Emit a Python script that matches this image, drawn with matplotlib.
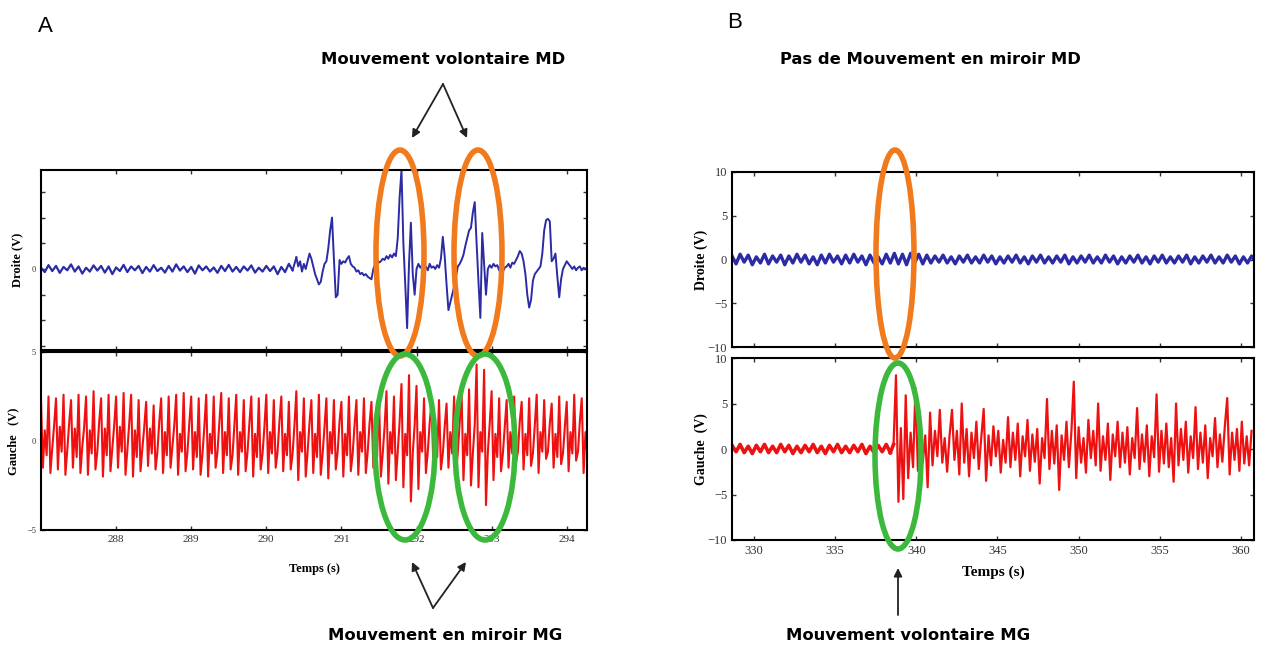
import numpy as np
import matplotlib
matplotlib.use("Agg")
import matplotlib.pyplot as plt
from matplotlib.patches import Ellipse

# ---------------- data ----------------
# panel A, right hand (Droite), quiet part: 287.00 s, step 0.05 s
droite_a_base = [0.05, -0.12, 0.15, -0.08, 0.12, -0.15, 0.08, -0.05, 0.18, -0.1,
                 0.1, -0.18, 0.05, -0.1, 0.14, -0.06, 0.12, -0.14, 0.1, -0.2,
                 0.06, -0.08, 0.16, -0.12, 0.1, -0.05, 0.12, -0.16, 0.08, -0.1,
                 0.15, -0.08, 0.05, -0.14, 0.12, -0.1, 0.18, -0.06, 0.1, -0.12,
                 0.08, -0.18, 0.14, -0.05, 0.1, -0.1, 0.06, -0.15, 0.12, -0.08,
                 0.16, -0.1, 0.08, -0.12, 0.1, -0.06, 0.14, -0.14, 0.05, -0.1,
                 0.12, -0.08, 0.1, -0.2, 0.08, -0.12, 0.2, -0.05]
# panel A, right hand, active part: 290.40 s, step 0.025 s
droite_a_burst = [0.45, 0.1, 0.3, -0.1, 0.2, 0.0, 0.3, 0.6, 0.4, 0.1,
                  -0.2, -0.4, -0.6, -0.5, -0.1, 0.2, 0.3, 0.8, 1.5, 2.0,
                  0.4, -1.1, -1.0, 0.35, 0.2, 0.3, 0.25, 0.4, 0.5, 0.2,
                  0.1, 0.05, -0.1, -0.05, -0.2, -0.15, -0.25, -0.2, -0.3, -0.35,
                  -0.4, 0.0, 0.2, 0.35, 0.25, 0.3, 0.4, 0.35, 0.5, 0.4,
                  0.55, 0.45, 0.6, 0.5, 1.2, 2.8, 3.85, 1.0, -0.6, -2.3,
                  0.2, 1.8, -0.2, -1.0, 0.0, 0.2, 0.05, 0.15, 0.0, 0.1,
                  -0.05, 0.2, 0.05, 0.1, 0.0, 0.15, 0.05, 0.4, 1.25, 0.5,
                  -0.6, -1.6, -1.3, -1.0, -0.7, -0.3, 0.1, 0.2, 0.35, 0.55,
                  0.9, 1.2, 1.5, 1.6, 2.2, 2.6, 1.0, -0.5, -1.9, 1.4,
                  0.2, -1.0, 0.0, 0.15, 0.05, 0.2, 0.1, 0.15, -0.05, 0.1,
                  -0.1, 0.05, 0.1, 0.2, 0.05, 0.25, 0.2, 0.35, 0.5, 0.7,
                  0.6, 0.3, -0.2, -1.0, -1.5, -1.2, -0.45, -0.2, -0.1, 0.0,
                  0.1, 0.6, 1.5, 1.9, 1.95, 1.85, 0.3, 0.4, 0.6, -0.3,
                  -1.1, -0.4, 0.0, 0.15, 0.3, 0.2, 0.1, 0.0, 0.1, -0.05,
                  0.05, 0.1, -0.05, 0.05, 0.0, 0.05]
# panel A, left hand (Gauche): 287.0 s, step 0.025 s (peak, trough, two mids per cycle)
gauche_a = [2.3, -1.5, 0.6, -0.8, 2.5, -1.8, -0.4, 0.9, 2.4, -1.6, 0.8, -0.6,
            2.6, -1.9, -0.5, 1.0, 2.3, -1.5, 0.7, -0.9, 2.6, -1.8, -0.3, 0.8,
            2.5, -1.9, 0.6, -0.7, 2.8, -1.6, -0.6, 1.1, 2.4, -2.0, 0.7, -0.8,
            2.6, -1.7, -0.4, 0.9, 2.5, -1.5, 0.8, -0.6, 2.7, -1.9, -0.5, 1.0,
            2.6, -2.0, 0.6, -0.9, 2.3, -1.7, -0.4, 0.8, 2.2, -1.4, 0.7, -0.7,
            2.0, -1.6, -0.6, 1.1, 2.4, -1.8, 0.5, -0.8, 2.5, -1.5, -0.3, 0.9,
            2.6, -1.9, 0.4, -0.6, 2.7, -1.7, -0.6, 1.0, 2.5, -1.6, 0.5, -0.9,
            2.4, -1.9, -0.7, 0.8, 2.6, -2.0, 0.4, -0.7, 2.5, -1.5, -0.6, 1.1,
            2.7, -1.8, 0.5, -0.8, 2.4, -1.6, -0.8, 0.9, 2.6, -1.9, 0.5, -0.6,
            2.3, -1.7, -0.6, 1.0, 2.5, -2.0, 0.4, -0.9, 2.4, -1.6, -0.7, 0.8,
            2.6, -1.8, 0.5, -0.7, 2.3, -1.5, -0.6, 1.1, 2.5, -1.7, 0.4, -0.8,
            2.2, -1.6, -0.7, 0.9, 2.8, -2.2, 0.5, -0.6, 2.4, -2.0, -0.6, 1.0,
            2.3, -1.8, 0.4, -0.9, 2.6, -1.9, -0.7, 0.8, 2.4, -2.1, 0.5, -0.7,
            2.3, -1.6, -0.6, 1.1, 2.2, -2.0, 0.4, -0.8, 2.5, -1.7, -0.7, 0.9,
            2.3, -1.9, 0.5, -0.6, 2.4, -1.8, -0.6, 1.0, 2.2, -1.5, 0.4, -0.9,
            2.6, -2.0, -0.7, 0.8, 2.8, -2.4, 0.5, -0.7, 2.5, -2.2, -0.6, 1.1,
            3.2, -2.6, 0.4, -0.8, 3.7, -3.4, -0.7, 0.9, 3.1, -2.7, 0.5, -0.6,
            2.4, -1.8, -0.6, 1.0, 2.2, -1.5, 0.4, -0.9, 2.3, -1.6, -0.7, 0.8,
            2.1, -1.5, 0.5, -0.7, 2.5, -1.9, -0.6, 1.1, 2.7, -2.2, 0.4, -0.8,
            2.9, -2.5, -0.7, 0.9, 4.3, -2.6, 0.5, -0.6, 4.0, -3.6, -0.6, 1.0,
            2.8, -2.2, 0.4, -0.9, 2.4, -1.7, -0.7, 0.8, 2.3, -1.5, 0.5, -0.7,
            2.5, -1.2, -0.6, 1.1, 2.2, -1.6, 0.4, -0.8, 2.4, -1.4, -0.7, 0.9,
            2.6, -1.8, 0.5, -0.6, 2.3, -1.0, -0.6, 1.0, 2.1, -1.5, 0.4, -0.9,
            2.5, -1.3, -0.7, 0.8, 2.2, -1.7, 0.5, -0.7, 2.6, -1.1, -0.6, 1.1,
            2.4, -1.8, 0.5, -0.8]
# panel B, right hand: 328.65 s, step 0.25 s
droite_b = [0.4, -0.5, 0.6, -0.3, 0.5, -0.6, 0.3, -0.4, 0.6, -0.5,
            0.4, -0.3, 0.5, -0.6, 0.4, -0.4, 0.6, -0.3, 0.5, -0.5,
            0.3, -0.6, 0.5, -0.4, 0.6, -0.3, 0.4, -0.5, 0.5, -0.4,
            0.6, -0.3, 0.4, -0.6, 0.5, -0.4, 0.3, -0.5, 0.6, -0.4,
            0.7, -0.5, 0.6, -0.6, 0.7, -0.4, 0.6, -0.5, 0.5, -0.4,
            0.4, -0.3, 0.5, -0.4, 0.3, -0.5, 0.4, -0.3, 0.5, -0.4,
            0.3, -0.4, 0.5, -0.3, 0.4, -0.5, 0.3, -0.4, 0.4, -0.3,
            0.5, -0.4, 0.3, -0.5, 0.4, -0.3, 0.5, -0.4, 0.3, -0.4,
            0.4, -0.3, 0.5, -0.5, 0.3, -0.4, 0.4, -0.3, 0.5, -0.4,
            0.3, -0.4, 0.5, -0.3, 0.4, -0.5, 0.3, -0.4, 0.4, -0.3,
            0.5, -0.4, 0.3, -0.5, 0.4, -0.3, 0.5, -0.4, 0.3, -0.4,
            0.4, -0.3, 0.5, -0.5, 0.3, -0.4, 0.4, -0.3, 0.5, -0.4,
            0.3, -0.4, 0.5, -0.3, 0.4, -0.5, 0.3, -0.4, 0.4, -0.3]
# panel B, left hand, rest: 328.65 s, step 0.25 s
gauche_b_rest = [0.4, -0.3, 0.5, -0.4, 0.3, -0.5, 0.4, -0.3, 0.5, -0.4,
                 0.3, -0.4, 0.5, -0.3, 0.4, -0.5, 0.3, -0.4, 0.4, -0.3,
                 0.5, -0.4, 0.3, -0.5, 0.4, -0.3, 0.5, -0.4, 0.3, -0.4,
                 0.4, -0.3, 0.5, -0.5, 0.3, -0.4, 0.4, -0.3, 0.5, -0.4]
# panel B, left hand, voluntary movement: 338.60 s, step 0.15 s
gauche_b_burst = [0.5, 8.1, -5.8, 2.3, -5.5, 5.9, -3.2, 1.8, -2.0, 6.7,
                  -2.4, 1.0, -1.5, 1.5, -4.2, 4.0, -1.8, 2.0, -0.8, 4.3,
                  -1.5, 1.2, -2.5, 1.5, 4.3, -1.2, 2.0, -2.8, 5.0, -1.5,
                  2.2, -3.0, 1.8, -1.0, 3.0, -2.2, 1.2, 4.4, -3.5, 1.5,
                  -1.8, 2.5, -0.8, 2.0, -2.6, 1.0, -1.5, 3.5, -2.0, 1.8,
                  -1.2, 2.8, -3.0, 1.4, -0.8, 3.2, -2.4, 1.6, -1.4, 2.2,
                  -3.8, 1.2, -1.0, 5.5, -2.2, 2.0, -1.6, 2.6, -4.5, 1.5,
                  -1.2, 3.0, -2.0, 1.8, 7.4, -3.2, 2.4, -1.5, 1.2, -2.6,
                  3.2, -1.0, 2.0, -1.8, 5.0, -2.4, 1.4, -1.2, 2.8, -3.4,
                  1.6, -0.8, 3.0, -2.0, 1.8, -1.5, 2.4, -2.8, 1.2, -1.0,
                  4.5, -2.2, 1.6, -1.4, 2.6, -3.0, 1.4, -0.9, 6.0, -2.5,
                  2.0, -1.6, 2.8, -2.0, 1.2, -3.6, 5.0, -1.8, 2.2, -1.2,
                  3.0, -2.6, 1.4, -1.0, 4.6, -2.2, 1.8, -1.5, 2.6, -3.2,
                  1.2, -0.8, 3.4, -2.0, 1.6, -1.4, 2.4, 5.6, -2.8, 1.8,
                  -1.2, 2.2, -2.4, 3.0, -1.6, 1.4, -1.8, 2.0]

a_xticks = [288, 289, 290, 291, 292, 293, 294]
b_xticks = [330, 335, 340, 345, 350, 355, 360]
b_yticks = [-10, -5, 0, 5, 10]

BLUE = "#2b2ba6"
RED = "#ee1111"
ORANGE = "#f07a1c"
GREEN = "#3cb93c"
SERIF = "Liberation Serif"
W, H = 1262, 654


def ax_rect(x0, y0, x1, y1):
    return [x0 / W, 1 - y1 / H, (x1 - x0) / W, (y1 - y0) / H]


def times(t0, dt, vals):
    return t0 + dt * np.arange(len(vals))


def style(ax, size):
    for s in ax.spines.values():
        s.set_linewidth(1.5)
    ax.tick_params(direction="in", top=True, right=True, length=3, width=1,
                   labelsize=size, colors="#333333")
    for lab in ax.get_xticklabels() + ax.get_yticklabels():
        lab.set_family(SERIF)


fig = plt.figure(figsize=(W / 100, H / 100), dpi=100)

# ---- panel A ----
a1 = fig.add_axes(ax_rect(41, 170, 587, 350))
a1.plot(times(287.0, 0.05, droite_a_base), droite_a_base, color=BLUE, lw=1.6)
a1.plot(times(290.40, 0.025, droite_a_burst), droite_a_burst, color=BLUE, lw=1.4)
a1.plot([287.0 + 0.05 * 67, 290.40], [droite_a_base[-1], droite_a_burst[0]], color=BLUE, lw=1.4)
a1.set_xlim(287.0, 294.27)
a1.set_ylim(-3.15, 3.85)
a1.set_xticks(a_xticks)
a1.set_xticklabels([])
a1.set_yticks([-3, -2, -1, 0, 1, 2, 3])
a1.set_yticklabels(["", "", "", "0", "", "", ""])
style(a1, 6)
a1.set_ylabel("Droite (V)", family=SERIF, fontweight="bold", fontsize=9, labelpad=6)

a2 = fig.add_axes(ax_rect(41, 352, 587, 530))
a2.plot(times(287.0, 0.025, gauche_a), gauche_a, color=RED, lw=1.5)
a2.set_xlim(287.0, 294.27)
a2.set_ylim(-5, 5)
a2.set_xticks(a_xticks)
a2.set_yticks([-5, 0, 5])
style(a2, 6)
a2.tick_params(axis="x", labelsize=8)
for lab in a2.get_xticklabels():
    lab.set_family(SERIF)
a2.set_ylabel("Gauche   (V)", family=SERIF, fontweight="bold", fontsize=9, labelpad=6)
a2.set_xlabel("Temps (s)", family=SERIF, fontweight="bold", fontsize=9, labelpad=14)

# ---- panel B ----
b1 = fig.add_axes(ax_rect(732, 172, 1254, 347))
b1.plot(times(328.65, 0.25, droite_b), droite_b, color=BLUE, lw=2.4)
b1.set_xlim(328.65, 360.8)
b1.set_ylim(-10, 10)
b1.set_xticks(b_xticks)
b1.set_xticklabels([])
b1.set_yticks(b_yticks)
style(b1, 9)
b1.set_ylabel("Droite (V)", family=SERIF, fontweight="bold", fontsize=10, labelpad=0)

b2 = fig.add_axes(ax_rect(732, 358, 1254, 540))
b2.plot(times(328.65, 0.25, gauche_b_rest), gauche_b_rest, color=RED, lw=2.6)
b2.plot(times(338.60, 0.15, gauche_b_burst), gauche_b_burst, color=RED, lw=1.6)
b2.plot([328.65 + 0.25 * 39, 338.60], [gauche_b_rest[-1], gauche_b_burst[0]], color=RED, lw=2.6)
b2.set_xlim(328.65, 360.8)
b2.set_ylim(-10, 10)
b2.set_xticks(b_xticks)
b2.set_yticks(b_yticks)
style(b2, 9)
b2.set_ylabel("Gauche  (V)", family=SERIF, fontweight="bold", fontsize=10, labelpad=0)
b2.set_xlabel("Temps (s)", family=SERIF, fontweight="bold", fontsize=11, labelpad=6)

# ---- overlay: letters, notes, arrows, ellipses (pixel coordinates) ----
ov = fig.add_axes([0, 0, 1, 1], facecolor="none")
ov.set_xlim(0, W)
ov.set_ylim(H, 0)
ov.axis("off")

note = dict(family="DejaVu Sans", fontweight="heavy",
            fontsize=11.8, ha="center", va="center", color="black")
ov.text(45, 26, "A", fontsize=16, family="Liberation Sans", ha="center", va="center")
ov.text(735, 23, "B", fontsize=16, family="Liberation Sans", ha="center", va="center")
ov.text(443, 60, "Mouvement volontaire MD", **note)
ov.text(930, 60, "Pas de Mouvement en miroir MD", **note)
ov.text(445, 636, "Mouvement en miroir MG", **note)
ov.text(908, 636, "Mouvement volontaire MG", **note)

arrow = dict(arrowstyle="-|>", color="#222222", lw=1.3, mutation_scale=12, shrinkA=0, shrinkB=0)
for tip, base in [((412, 138), (443, 84)), ((467, 138), (443, 84)),
                  ((412, 562), (433, 608)), ((466, 562), (433, 608)),
                  ((898, 568), (898, 615))]:
    ov.annotate("", xy=tip, xytext=base, arrowprops=arrow)

for cx, cy, w, h, col in [(400, 253, 48, 206, ORANGE), (478, 253, 48, 206, ORANGE),
                          (405, 447, 60, 186, GREEN), (485, 447, 60, 186, GREEN),
                          (895, 254, 38, 208, ORANGE), (898, 456, 46, 186, GREEN)]:
    ov.add_patch(Ellipse((cx, cy), w, h, fill=False, edgecolor=col, lw=4))

fig.savefig("out.png", dpi=100)
